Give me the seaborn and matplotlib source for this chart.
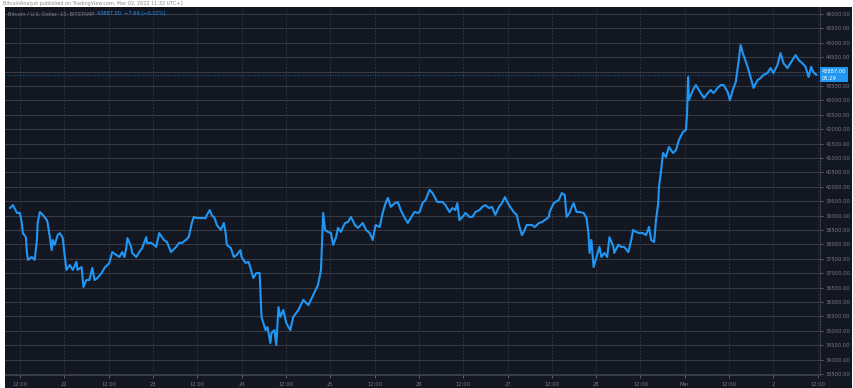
import matplotlib
matplotlib.use("Agg")
import matplotlib.pyplot as plt
import matplotlib.transforms as mtransforms
from matplotlib.patches import Rectangle
import seaborn as sns
import pandas as pd

# ---- data (hours since 2022-02-21 00:00, BTC/USD price) ----
hours = [9.3, 10.1, 11.2, 12.0, 12.5, 12.8, 13.6, 13.9, 14.2, 15.2, 16.0, 16.6, 16.8, 17.4, 18.2,
         19.3, 19.5, 20.1, 20.6, 20.9, 21.4, 22.2, 22.8, 23.6, 24.1, 24.6, 25.5, 26.3, 27.3, 27.6,
         28.7, 29.2, 30.0, 30.8, 31.6, 32.2, 33.0, 34.1, 34.9, 36.2, 37.0, 38.1, 38.9, 39.7, 40.3,
         40.8, 41.1, 42.1, 42.4, 43.5, 44.3, 45.1, 46.2, 46.4, 47.5, 48.3, 48.9, 49.7, 51.0, 51.8,
         52.9, 54.3, 55.1, 55.9, 56.9, 57.7, 58.6, 59.1, 59.9, 61.2, 62.3, 62.6, 63.4, 63.9, 64.7,
         65.3, 66.4, 67.2, 67.7, 68.0, 69.1, 69.9, 70.7, 71.7, 72.0, 73.1, 73.9, 74.4, 75.2, 76.0,
         76.9, 77.1, 77.4, 78.5, 79.0, 79.8, 80.1, 80.9, 81.4, 82.0, 82.5, 83.3, 84.1, 85.2, 86.0,
         87.4, 88.7, 90.1, 91.4, 92.7, 93.5, 93.8, 94.1, 94.6, 95.4, 96.2, 96.8, 97.6, 98.1, 98.9,
         100.0, 100.8, 101.6, 102.7, 103.5, 104.3, 104.8, 105.7, 106.7, 107.5, 108.3, 109.4, 110.2,
         111.0, 111.6, 112.4, 113.5, 114.3, 115.1, 116.2, 117.0, 117.8, 118.8, 119.7, 120.2, 121.0,
         121.8, 122.9, 123.7, 125.0, 126.4, 127.2, 128.3, 129.1, 129.9, 130.4, 131.0, 131.8, 132.6,
         133.7, 134.5, 135.3, 136.4, 137.2, 138.0, 139.0, 139.8, 140.7, 141.7, 142.5, 143.3, 144.1,
         144.7, 145.7, 146.5, 147.1, 147.9, 148.4, 149.2, 150.6, 151.4, 152.5, 153.3, 154.1, 155.2,
         155.4, 156.5, 157.9, 158.7, 159.5, 160.0, 160.8, 161.4, 161.9, 162.7, 163.5, 164.6, 165.4,
         165.9, 166.2, 166.7, 167.3, 168.1, 168.9, 169.4, 170.2, 171.0, 171.6, 172.7, 172.9, 174.0,
         174.8, 175.6, 176.7, 177.5, 178.0, 178.8, 179.7, 180.7, 181.5, 182.3, 182.9, 183.7, 184.2,
         184.8, 185.0, 185.6, 186.1, 186.9, 187.7, 188.8, 189.6, 190.4, 191.5, 192.3, 192.6, 192.9,
         193.1, 194.2, 195.0, 195.8, 197.2, 198.2, 199.0, 199.8, 200.9, 201.7, 202.5, 203.6, 204.2,
         205.0, 205.8, 206.6, 207.1, 207.7, 207.9, 209.0, 209.8, 210.6, 211.7, 212.5, 213.3, 214.4,
         215.2, 216.0, 217.1, 217.9, 218.7, 219.8, 220.6, 222.0, 222.8, 223.8, 224.7, 225.5, 226.2,
         226.8, 227.6]
prices = [39260, 39360, 39090, 39090, 38740, 38390, 38250, 37700, 37460, 37560, 37460, 38150, 38740, 39120, 39020,
          38840, 38740, 38250, 37800, 38150, 37980, 38320, 38390, 38220, 37630, 37110, 37280, 37110, 37390, 37110,
          37210, 36520, 36760, 36760, 37180, 36760, 36830, 37000, 37180, 37350, 37730, 37630, 37560, 37730, 37560,
          37870, 38220, 37910, 37700, 37560, 37730, 37870, 38250, 38050, 38050, 37980, 37910, 38390, 38150, 38080,
          37730, 37910, 38050, 38050, 38150, 38250, 38770, 38950, 38910, 38910, 38910, 39020, 39190, 39020, 38910,
          38670, 38500, 38740, 38390, 37980, 37870, 37560, 37630, 37800, 37560, 37350, 37390, 37180, 36830, 37000,
          37000, 36410, 35480, 35020, 35130, 34570, 34920, 35020, 34500, 35820, 35480, 35720, 35270, 35020, 35480,
          35720, 36070, 35890, 36240, 36590, 37110, 38150, 39090, 38500, 38430, 38390, 37980, 38250, 38570, 38430,
          38740, 38770, 38950, 38670, 38570, 38670, 38740, 38500, 38390, 38150, 38670, 38600, 39090,
          39430, 39610, 39300, 39430, 39470, 39190, 38910, 38740, 38910, 39120, 39090, 39120, 39430,
          39540, 39890, 39780, 39470, 39470, 39360, 39120, 39260, 39190, 39430, 38840, 38950, 39090,
          38950, 38950, 39120, 39190, 39300, 39360, 39260, 39300, 39020, 39300, 39430, 39640, 39430,
          39300, 39120, 39020, 38670, 38320, 38430, 38670, 38670, 38600, 38740, 38770, 38840, 38950,
          39120, 39430, 39540, 39780, 39710, 38950, 39090, 39300, 39430, 39120, 39120, 39090, 38910,
          38390, 37700, 38150, 37210, 37560, 37910, 37560, 37700, 37560, 38250, 37910, 37700, 37980,
          37910, 37910, 37730, 38150, 38500, 38430, 38390, 38390, 38320, 38600, 38150, 38080, 38840,
          39430, 39990, 40580, 41170, 41030, 41380, 41170, 41270, 41620, 41900, 41970, 42490, 43810,
          43010, 43360, 43530, 43360, 43080, 43250, 43360, 43250, 43430, 43530, 43530, 43290, 43010,
          43360, 43640, 44400, 44920, 44640, 44570, 44160, 43810, 43430, 43700, 43770, 43880, 43950,
          44120, 43950, 44230, 44640, 44290, 44120, 44290, 44570, 44400, 44290, 44160, 43810, 44160,
          43980, 43887]

tick_hours = [12, 24, 36, 48, 60, 72, 84, 96, 108, 120, 132, 144, 156, 168, 180, 192, 204, 216, 228]
tick_labels = ["12:00", "22", "12:00", "23", "12:00", "24", "12:00", "25", "12:00", "26",
               "12:00", "27", "12:00", "28", "12:00", "Mar", "12:00", "2", "12:00"]
price_ticks = list(range(33500, 46001, 500))
last_price = 43887.00
countdown = "05:29"
header = "BitcoinAnalyst published on TradingView.com, Mar 02, 2022 11:32 UTC+1"
symbol_text = "Bitcoin / U.S. Dollar, 15, BITSTAMP"
quote_text = "43887.00  \u22127.69 (\u22120.02%)"

df = pd.DataFrame({"hour": hours, "price": prices})

# ---- figure ----
W, H = 854, 388
BG = "#131722"
GRID = "#363a45"
TXT = "#787b86"
BLUE = "#2196f3"

fig = plt.figure(figsize=(W / 100, H / 100), dpi=100, facecolor="white")
fig.patches.append(Rectangle((5 / W, 0), 847 / W, 381 / H, transform=fig.transFigure,
                             facecolor=BG, edgecolor="none", zorder=-1))
ax = fig.add_axes([5 / W, 13 / H, 815 / W, 368 / H])
ax.set_facecolor(BG)

sns.lineplot(data=df, x="hour", y="price", ax=ax, color=BLUE, linewidth=1.5,
             estimator=None, sort=False, zorder=3)

ax.set_xlim(7.96, 228.6)
ax.set_ylim(33462, 46240)

ax.yaxis.tick_right()
ax.set_yticks(price_ticks)
# the tick label hidden behind the last-price tag is left blank (as in the reference)
ax.set_yticklabels(["" if abs(v - last_price) < 200 else f"{v:.2f}" for v in price_ticks])
ax.set_xticks(tick_hours)
ax.set_xticklabels(tick_labels)
ax.tick_params(axis="y", labelsize=3.7, labelcolor=TXT, length=2, color=TXT, pad=2, width=0.5)
ax.tick_params(axis="x", labelsize=3.7, labelcolor=TXT, length=2, color=TXT, pad=3, width=0.5)
ax.set_xlabel("")
ax.set_ylabel("")

ax.grid(axis="y", color=GRID, linewidth=0.8, linestyle="-")
ax.grid(axis="x", color=GRID, linewidth=0.6, linestyle=(0, (2, 2)))
ax.set_axisbelow(True)

for s in ["top", "left"]:
    ax.spines[s].set_visible(False)
for s in ["right", "bottom"]:
    ax.spines[s].set_color("#4a4e59")
    ax.spines[s].set_linewidth(0.6)
    ax.spines[s].set_linestyle((0, (1.5, 1.5)))

# last price line and label
ax.axhline(last_price, color=BLUE, linewidth=0.6, linestyle=(0, (1, 2)), alpha=0.8, zorder=2)
trans = mtransforms.blended_transform_factory(ax.transAxes, ax.transData)
ax.text(1.002, last_price, f"{last_price:.2f}\n{countdown}", transform=trans, ha="left", va="center",
        fontsize=3.7, color="white", linespacing=1.4, clip_on=False,
        bbox=dict(boxstyle="square,pad=0.35", facecolor=BLUE, edgecolor="none"))

# header and legend
fig.text(3 / W, 1 - 3.5 / H, header, fontsize=3.5, color="#8a8a8a", va="center", ha="left")
ax.text(0.004, 0.981, symbol_text, transform=ax.transAxes, fontsize=3.6, color=TXT, va="center", ha="left")
ax.text(0.113, 0.981, quote_text, transform=ax.transAxes, fontsize=3.6, color=BLUE, va="center", ha="left")

fig.savefig("out.png", dpi=100, facecolor="white")
